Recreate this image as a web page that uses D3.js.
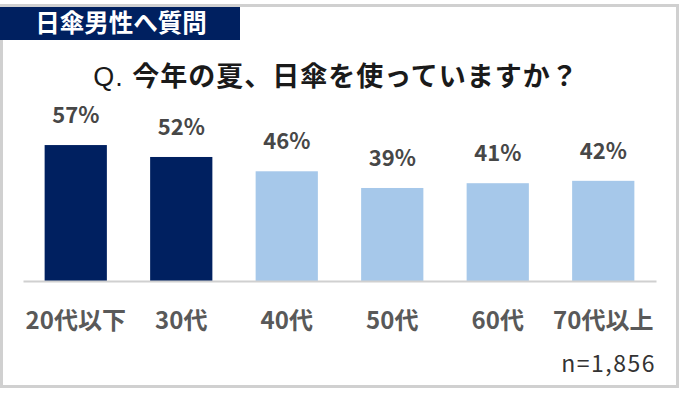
<!DOCTYPE html>
<html>
<head>
<meta charset="utf-8">
<script src="https://cdn.jsdelivr.net/npm/d3@7"></script>
<style>
  body { margin: 0; background: #fff; }
  svg { display: block; font-family: "Noto Sans CJK JP", "Noto Sans", sans-serif; }
</style>
</head>
<body>
<div class="chart"></div>
<script>
var categories = ["20代以下", "30代", "40代", "50代", "60代", "70代以上"];
var values = [57, 52, 46, 39, 41, 42];
var highlighted = ["20代以下", "30代"];

var badgeText = "日傘男性へ質問";
var questionPrefix = "Q.";
var questionText = "今年の夏、日傘を使っていますか？";
var sampleNote = "n=1,856";

createChart();

function createChart() {
    var svgWidth = 681;
    var svgHeight = 394;

    var svg = d3.select(".chart")
        .append("svg")
        .attr("width", svgWidth).attr("height", svgHeight);

    // outer frame
    svg.append("rect")
        .attr("x", 1.5).attr("y", 5.5)
        .attr("width", 676).attr("height", 381)
        .attr("fill", "#fff")
        .attr("stroke", "#d0d0d0")
        .attr("stroke-width", 3);

    // badge
    svg.append("rect")
        .attr("x", 0).attr("y", 7)
        .attr("width", 240).attr("height", 33)
        .attr("fill", "#002060");

    svg.append("text")
        .attr("x", 121).attr("y", 32)
        .attr("text-anchor", "middle")
        .attr("fill", "#fff")
        .attr("font-size", "24.5px")
        .attr("font-weight", "bold")
        .text(badgeText);

    var title = svg.append("text")
        .attr("x", 336).attr("y", 86)
        .attr("text-anchor", "middle")
        .attr("fill", "#1a1a1a")
        .attr("font-size", "27px")
        .attr("letter-spacing", "1px");
    title.append("tspan")
        .attr("font-family", "'Liberation Sans', Arial, sans-serif")
        .attr("font-weight", "normal")
        .text(questionPrefix + " ");
    title.append("tspan")
        .attr("font-weight", "bold")
        .text(questionText);

    var x = d3.scaleBand()
        .domain(categories)
        .range([23, 656])
        .paddingInner(0.41)
        .paddingOuter(0.205);

    var y = d3.scaleLinear()
        .domain([0, 100])
        .range([281, 42.5]);

    var chartGroup = svg.append("g");

    chartGroup.selectAll(".bar")
        .data(values)
        .enter()
        .append("rect")
        .attr("class", "bar")
        .attr("x", (d, i) => x(categories[i]))
        .attr("y", d => y(d))
        .attr("width", x.bandwidth())
        .attr("height", d => y(0) - y(d))
        .attr("fill", (d, i) => highlighted.indexOf(categories[i]) >= 0 ? "#002060" : "#a6c8ea");

    chartGroup.selectAll(".value")
        .data(values)
        .enter()
        .append("text")
        .attr("class", "value")
        .attr("x", (d, i) => x(categories[i]) + x.bandwidth() / 2)
        .attr("y", d => y(d) - 22)
        .attr("text-anchor", "middle")
        .attr("fill", "#474747")
        .attr("font-size", "22px")
        .attr("font-weight", "bold")
        .text(d => d + "%");

    var bottomAxis = d3.axisBottom(x).tickSize(0).tickPadding(0);

    var axisG = chartGroup.append("g")
        .attr("transform", "translate(0, 281)")
        .call(bottomAxis);

    axisG.select(".domain")
        .attr("stroke", "#d0d0d0")
        .attr("stroke-width", 2);

    axisG.selectAll(".tick text")
        .attr("dy", null)
        .attr("y", 48)
        .attr("fill", "#595959")
        .attr("font-size", "24px")
        .attr("font-weight", "bold")
        .attr("font-family", "'Noto Sans CJK JP', sans-serif");

    svg.append("text")
        .attr("x", 656).attr("y", 372)
        .attr("text-anchor", "end")
        .attr("fill", "#333")
        .attr("font-size", "23px")
        .attr("letter-spacing", "1.5px")
        .text(sampleNote);
}
</script>
</body>
</html>
